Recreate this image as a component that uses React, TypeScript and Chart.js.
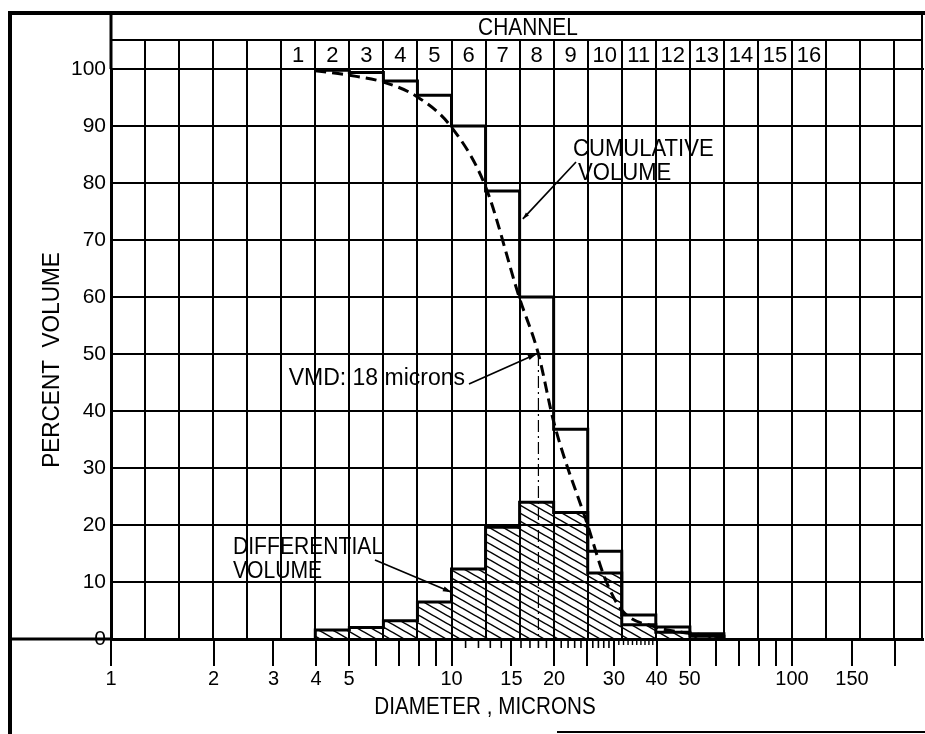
import React, { useEffect, useRef } from "react";
import { Chart, registerables } from "chart.js";

Chart.register(...registerables);

// ---------------- data ----------------
// channel boundaries (microns), 0.1-decade spacing of the analyser
const channelEdges = [
  1, 1.259, 1.585, 1.995, 2.512, 3.162, 3.981, 5.012, 6.31, 7.943, 10, 12.59,
  15.85, 19.95, 25.12, 31.62, 39.81, 50.12, 63.1, 79.43, 100, 125.9, 158.5, 199.5,
];
const channelLabels = ["1", "2", "3", "4", "5", "6", "7", "8", "9", "10", "11", "12", "13", "14", "15", "16"];
const firstChannelEdgeIndex = 5; // channel 1 begins at channelEdges[5]

const measuredChannels = [2, 3, 4, 5, 6, 7, 8, 9, 10, 11, 12, 13];
const cumulativeVolume = [99.8, 99.4, 97.9, 95.4, 90.0, 78.6, 60.0, 36.8, 15.4, 4.2, 2.1, 0.9];
const differentialVolume = [1.6, 2.0, 3.2, 6.5, 12.3, 19.6, 24.0, 22.2, 11.6, 2.5, 1.2, 0.5];

const curveDiameter = [3.98, 5.01, 6.31, 7.94, 10.0, 12.6, 15.8, 18.0, 20.0, 25.1, 28.2, 31.6, 39.8, 50.1, 63.1];
const curvePercent = [99.7, 98.9, 97.7, 95.1, 89.8, 79.3, 60.0, 50.0, 37.9, 20.0, 10.7, 5.1, 2.1, 1.0, 0.3];

const vmdDiameter = 18;
const vmdPercent = 50;

const diameterTicks = [1, 2, 3, 4, 5, 6, 7, 8, 9, 10, 15, 20, 25, 30, 40, 50, 60, 70, 80, 90, 100, 150, 200];
const diameterLabels = [1, 2, 3, 4, 5, 10, 15, 20, 30, 40, 50, 100, 150];
const minorDiameterTicks = [11, 12, 13, 14, 16, 17, 18, 19, 21, 22, 23, 24, 26, 27, 28, 29];
const fineDiameterTicks = [31, 32, 33, 34, 35, 36, 37, 38, 39];
const percentTicks = [0, 10, 20, 30, 40, 50, 60, 70, 80, 90, 100];

const X_MIN = 1;
const X_MAX = 242.5;

const FONT = '"Liberation Sans", Arial, sans-serif';
const INK = "#000";

// --------------- helpers ---------------
function lowerEdge(ch: number) {
  return channelEdges[firstChannelEdgeIndex + ch - 1];
}

function stepPoints(values: number[], closeLeft: boolean) {
  const pts: { x: number; y: number }[] = [];
  if (closeLeft) pts.push({ x: lowerEdge(measuredChannels[0]), y: 0 });
  measuredChannels.forEach((ch, i) => pts.push({ x: lowerEdge(ch), y: values[i] }));
  const last = measuredChannels.length - 1;
  const end = lowerEdge(measuredChannels[last] + 1);
  pts.push({ x: end, y: values[last] });
  pts.push({ x: end, y: 0 });
  return pts;
}

function makeHatch(): CanvasPattern | string {
  const w = 14;
  const h = 8;
  const c = document.createElement("canvas");
  c.width = w;
  c.height = h;
  const g = c.getContext("2d");
  if (!g) return "rgba(0,0,0,0.3)";
  g.strokeStyle = INK;
  g.lineWidth = 1.5;
  for (let n = -1; n <= 1; n++) {
    g.beginPath();
    g.moveTo(-w, -h + n * h);
    g.lineTo(2 * w, 2 * h + n * h);
    g.stroke();
  }
  const p = g.createPattern(c, "repeat");
  return p || "rgba(0,0,0,0.3)";
}

function arrow(ctx: CanvasRenderingContext2D, x1: number, y1: number, x2: number, y2: number, head: number) {
  ctx.lineWidth = 1.7;
  ctx.beginPath();
  ctx.moveTo(x1, y1);
  ctx.lineTo(x2, y2);
  ctx.stroke();
  const a = Math.atan2(y2 - y1, x2 - x1);
  ctx.beginPath();
  ctx.moveTo(x2, y2);
  ctx.lineTo(x2 - head * Math.cos(a - 0.3), y2 - head * Math.sin(a - 0.3));
  ctx.lineTo(x2 - head * Math.cos(a + 0.3), y2 - head * Math.sin(a + 0.3));
  ctx.closePath();
  ctx.fill();
}

// lettering-style text: taller glyphs, slightly condensed
function letter(
  ctx: CanvasRenderingContext2D,
  text: string,
  x: number,
  y: number,
  align: CanvasTextAlign,
  size: number,
  sx: number,
  rotate = false
) {
  ctx.save();
  ctx.translate(x, y);
  if (rotate) ctx.rotate(-Math.PI / 2);
  ctx.scale(sx, 1);
  ctx.font = `${size}px ${FONT}`;
  ctx.textAlign = align;
  ctx.textBaseline = "middle";
  ctx.fillText(text, 0, 0);
  ctx.restore();
}

const framePlugin = {
  id: "frameAndNotes",
  afterDraw(chart: any) {
    const ctx: CanvasRenderingContext2D = chart.ctx;
    const { left, right, top, bottom } = chart.chartArea;
    const xs = chart.scales.x;
    const ys = chart.scales.y;
    ctx.save();
    ctx.strokeStyle = INK;
    ctx.fillStyle = INK;
    ctx.lineCap = "butt";
    const line = (x1: number, y1: number, x2: number, y2: number, w: number) => {
      ctx.lineWidth = w;
      ctx.beginPath();
      ctx.moveTo(x1, y1);
      ctx.lineTo(x2, y2);
      ctx.stroke();
    };
    // outer frame
    line(10, 11, 10, 734, 4);
    line(8, 13, 925, 13, 4);
    line(right - 1, 13, right - 1, bottom, 2);
    line(left, 40, right, 40, 2);
    line(left, 13, left, top, 3);
    line(10, bottom, left, bottom, 3);
    line(557, 732, 925, 732, 2);

    // minor ticks on the diameter axis
    minorDiameterTicks.forEach((v) => {
      const px = xs.getPixelForValue(v);
      line(px, bottom, px, bottom + 9, 1.6);
    });
    fineDiameterTicks.forEach((v) => {
      const px = xs.getPixelForValue(v);
      line(px, bottom, px, bottom + 6, 1.4);
    });

    // texts
    letter(ctx, "CHANNEL", 528, 28, "center", 24, 0.87);
    letter(ctx, "DIAMETER , MICRONS", 485, 707, "center", 24, 0.86);
    letter(ctx, "PERCENT  VOLUME", 52, 360, "center", 24, 0.94, true);

    letter(ctx, "CUMULATIVE", 573, 149, "left", 24, 0.92);
    letter(ctx, "VOLUME", 578, 173, "left", 24, 0.92);
    arrow(ctx, 576, 162, xs.getPixelForValue(16.2), ys.getPixelForValue(73.7), 7);

    letter(ctx, "DIFFERENTIAL", 233, 547, "left", 24, 0.88);
    letter(ctx, "VOLUME", 233, 571, "left", 24, 0.88);
    arrow(ctx, 375, 560, xs.getPixelForValue(10), ys.getPixelForValue(8.2), 9);

    letter(ctx, "VMD: 18 microns", 465, 379, "right", 23, 1.0);
    arrow(ctx, 469, 384, xs.getPixelForValue(vmdDiameter) - 2, ys.getPixelForValue(vmdPercent), 9);

    ctx.restore();
  },
};

export default function App() {
  const canvasRef = useRef<HTMLCanvasElement | null>(null);

  useEffect(() => {
    const canvas = canvasRef.current;
    if (!canvas) return;
    const hatch = makeHatch();

    const chart = new Chart(canvas, {
      type: "line",
      data: {
        datasets: [
          {
            label: "Cumulative volume",
            data: stepPoints(cumulativeVolume, false),
            stepped: true,
            fill: false,
            borderColor: INK,
            borderWidth: 3,
            pointRadius: 0,
            xAxisID: "x",
            yAxisID: "y",
          },
          {
            label: "Cumulative curve",
            data: curveDiameter.map((d, i) => ({ x: d, y: curvePercent[i] })),
            cubicInterpolationMode: "monotone",
            borderDash: [11, 6],
            borderColor: INK,
            borderWidth: 3,
            fill: false,
            pointRadius: 0,
            xAxisID: "x",
            yAxisID: "y",
          },
          {
            label: "VMD",
            data: [
              { x: vmdDiameter, y: vmdPercent },
              { x: vmdDiameter, y: 0 },
            ],
            borderDash: [12, 4, 2, 4],
            borderColor: INK,
            borderWidth: 1.2,
            fill: false,
            pointRadius: 0,
            xAxisID: "x",
            yAxisID: "y",
          },
          {
            label: "Differential volume",
            data: stepPoints(differentialVolume, true),
            stepped: true,
            fill: "origin",
            backgroundColor: hatch as any,
            borderColor: INK,
            borderWidth: 3,
            pointRadius: 0,
            xAxisID: "x",
            yAxisID: "y",
          },
        ],
      },
      options: {
        responsive: false,
        maintainAspectRatio: false,
        animation: false,
        events: [],
        layout: { padding: { left: 0, right: 2, top: 0, bottom: 0 } },
        plugins: {
          legend: { display: false },
          tooltip: { enabled: false },
        },
        scales: {
          x: {
            type: "logarithmic",
            position: "bottom",
            min: X_MIN,
            max: X_MAX,
            bounds: "data",
            afterBuildTicks: (s: any) => {
              s.ticks = diameterTicks.map((v) => ({ value: v }));
            },
            afterFit: (s: any) => {
              s.height = 95;
            },
            grid: {
              drawOnChartArea: false,
              drawTicks: true,
              tickLength: 27,
              color: INK,
              lineWidth: 2,
            },
            border: { display: true, color: INK, width: 3 },
            ticks: {
              autoSkip: false,
              maxRotation: 0,
              minRotation: 0,
              padding: 1,
              color: INK,
              font: { family: FONT, size: 20 },
              callback: (v: any) => (diameterLabels.includes(Number(v)) ? String(v) : ""),
            },
          },
          xc: {
            type: "logarithmic",
            position: "top",
            min: X_MIN,
            max: X_MAX,
            bounds: "data",
            afterBuildTicks: (s: any) => {
              s.ticks = channelEdges.map((v) => ({ value: v }));
            },
            afterFit: (s: any) => {
              s.height = 69;
            },
            grid: {
              drawOnChartArea: true,
              drawTicks: true,
              tickLength: 29,
              color: INK,
              lineWidth: 2,
            },
            border: { display: true, color: INK, width: 2 },
            ticks: {
              autoSkip: false,
              maxRotation: 0,
              minRotation: 0,
              padding: -29,
              labelOffset: 17,
              color: INK,
              font: { family: FONT, size: 22 },
              callback: (_v: any, i: number) => {
                const ch = i - firstChannelEdgeIndex;
                return ch >= 0 && ch < channelLabels.length ? channelLabels[ch] : "";
              },
            },
          },
          y: {
            type: "linear",
            position: "left",
            min: 0,
            max: 100,
            afterBuildTicks: (s: any) => {
              s.ticks = percentTicks.map((v) => ({ value: v }));
            },
            afterFit: (s: any) => {
              s.width = 111;
            },
            grid: {
              drawOnChartArea: true,
              drawTicks: false,
              color: INK,
              lineWidth: 2,
            },
            border: { display: true, color: INK, width: 3 },
            ticks: {
              padding: 5,
              color: INK,
              font: { family: FONT, size: 21 },
              callback: (v: any) => String(v),
            },
          },
        },
      } as any,
      plugins: [framePlugin],
    });

    return () => chart.destroy();
  }, []);

  return (
    <div style={{ position: "absolute", left: 0, top: 0, width: 925, height: 734, background: "#fff" }}>
      <canvas ref={canvasRef} width={925} height={734} style={{ display: "block", width: 925, height: 734 }} />
    </div>
  );
}
